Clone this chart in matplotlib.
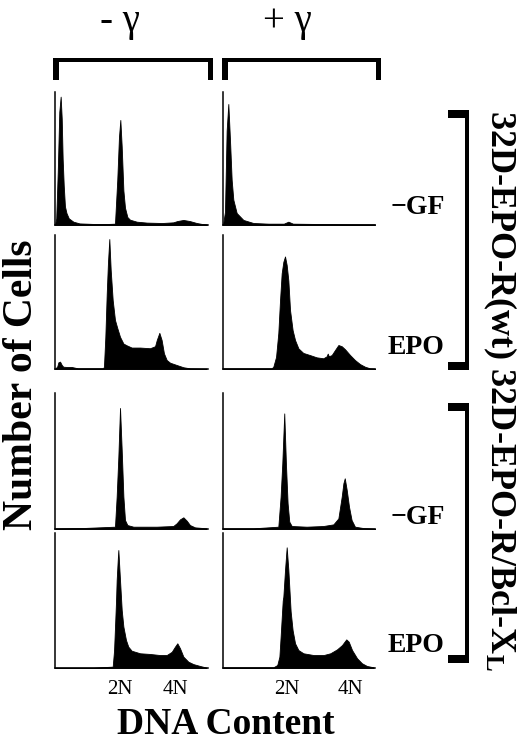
import matplotlib
matplotlib.use("Agg")
import matplotlib.pyplot as plt
from matplotlib.patches import Rectangle

plt.rcParams['font.family'] = ['Liberation Serif', 'DejaVu Serif']

# x: DNA content channel (% of panel width), y: number of cells (% of panel height)
# 32D-EPO-R(wt), -GF
wt_nogf_ctl_x = [0, 0.8, 1.8, 2.8, 3.7, 4.4, 5.0, 5.7, 6.5, 7.5, 9, 12, 16, 25, 35, 39.2, 40.7, 41.8,
                 42.7, 43.6, 44.7, 45.75, 47.3, 49.0, 53.4, 60, 70, 77.3, 80, 83.9, 88, 92.6, 96, 99.3]
wt_nogf_ctl_y = [0, 5, 40, 85, 96.5, 80, 50, 30, 14, 9, 5, 2.5, 1.2, 0.8, 0.8, 1, 34, 66,
                 79, 59, 26, 13, 6, 4, 2.5, 1.8, 1.5, 2, 3, 3.8, 3, 1.5, 0.8, 0.5]
wt_nogf_gam_x = [0, 1.3, 2.4, 3.5, 4.6, 5.7, 6.8, 9.0, 13.4, 20, 30, 40, 43, 46, 60, 80, 100]
wt_nogf_gam_y = [0, 10, 71, 91, 64, 34, 19, 9, 3.8, 1.5, 1, 1, 2.5, 1, 0.8, 0.6, 0.5]
# 32D-EPO-R(wt), EPO
wt_epo_ctl_x = [0, 1.5, 2.2, 3.3, 4.4, 5.4, 8, 10.9, 15, 25, 31.6, 32.0, 32.9, 33.8, 34.6, 35.5,
                36.4, 37.7, 39.2, 40.7, 42.5, 44.7, 46.8, 50.1, 55.6, 62.1, 65.4, 66.5, 68.2,
                69.7, 71.2, 73.0, 75.2, 79.5, 83.9, 88.2, 99]
wt_epo_ctl_y = [0, 2, 5, 5.5, 3, 1.7, 1.5, 1.5, 0.5, 0.5, 0.5, 2, 24, 56, 79, 97,
                74, 51.5, 36.6, 30.6, 24, 19, 17.7, 16, 16, 15.5, 17, 21.6, 27,
                21.6, 11.7, 6.7, 4.7, 3, 1.3, 0.5, 0.3]
wt_epo_gam_x = [0, 15, 32.0, 33.1, 34.9, 36.4, 37.5, 38.6, 39.7, 40.8, 41.9, 43.0, 44.1, 45.8,
                47.4, 49.6, 52.8, 57.2, 61.6, 66.0, 68.2, 68.9, 69.6, 71.5, 73.7, 75.9, 78.1,
                80.3, 83.6, 86.8, 90.1, 93.4, 96.7, 100]
wt_epo_gam_y = [0.5, 0.5, 0.5, 1.7, 9, 27, 51, 71.4, 80, 84, 77.6, 66, 44, 29,
                21.6, 15.4, 12, 10.4, 8.7, 8, 9.5, 11.5, 9.5, 10.4, 14.2, 17.9, 17,
                14.7, 10.4, 6.7, 3.7, 1.7, 0.5, 0.3]
# 32D-EPO-R/Bcl-XL, -GF
bcl_nogf_ctl_x = [0, 20, 39.2, 40.3, 41.4, 42.5, 43.6, 44.7, 45.75, 47.3, 51.2, 66.5, 77.3,
                  79.5, 81.7, 83.9, 86.1, 88.2, 91.5, 99]
bcl_nogf_ctl_y = [0.5, 0.8, 1.7, 23.8, 53, 89, 58, 23.8, 6.6, 2.9, 1.7, 1.7, 2.2,
                  4.2, 7.1, 8.6, 6.1, 2.9, 1.2, 0.5]
bcl_nogf_gam_x = [0, 20, 36.4, 37.9, 39.0, 40.3, 41.4, 42.5, 43.6, 45.2, 55.0, 66.0, 72.6,
                  75.9, 78.1, 79.2, 80.1, 81.4, 82.9, 84.6, 86.8, 92.3, 100]
bcl_nogf_gam_y = [0.5, 0.5, 1.7, 23.8, 48, 85, 48, 19, 5.4, 2.2, 1.7, 2.2, 3.4,
                  7.8, 23.8, 33.6, 37.3, 28.7, 16.4, 6.6, 1.7, 0.7, 0.3]
# 32D-EPO-R/Bcl-XL, EPO
bcl_epo_ctl_x = [0, 25, 37.7, 38.6, 39.4, 39.9, 40.3, 41.0, 41.4, 42.5, 43.6, 44.7, 46.4, 47.9,
                 50.1, 55.6, 62.1, 68.6, 73.0, 76.3, 78.4, 79.95, 81.7, 83.9, 87.1, 90.4, 94.8, 99]
bcl_epo_ctl_y = [0.3, 0.3, 1, 13, 35.6, 50, 65, 80, 87.4, 65, 43, 30.6, 20.7, 15.8,
                 12.8, 10.9, 10.4, 9.6, 9.6, 12, 15.8, 18.3, 14.6, 8.4, 4.7, 2.9, 1.5, 0.3]
bcl_epo_gam_x = [0, 33.1, 35.7, 37.1, 37.9, 38.8, 39.3, 39.7, 40.8, 41.9, 43.0, 44.5, 45.8, 47.4,
                 49.6, 52.9, 59.6, 66.2, 70.6, 75.0, 78.3, 81.1, 82.7, 84.9, 88.2, 91.4, 94.7, 99.1]
bcl_epo_gam_y = [0.5, 0.5, 2.2, 8.4, 23, 40.5, 50, 52.8, 72.6, 89.4, 72.6, 42, 28, 18.3,
                 13.3, 10.9, 9.6, 9.6, 10.9, 13.8, 17, 21.2, 19.5, 13.3, 7.2, 3.5, 1.5, 0.5]

tick_pos_ctl = [42.5, 78.9]
tick_pos_gam = [42, 84]
tick_labels = ['2N', '4N']

W, H = 520, 741
fig = plt.figure(figsize=(W / 100, H / 100), dpi=100)

# panel boxes in pixels: (left, width), (top, bottom)
cols = [(55, 153), (223, 152)]
rows = [(92, 225), (235, 369), (393, 529), (533, 668)]

panels = [
    [(wt_nogf_ctl_x, wt_nogf_ctl_y), (wt_nogf_gam_x, wt_nogf_gam_y)],
    [(wt_epo_ctl_x, wt_epo_ctl_y), (wt_epo_gam_x, wt_epo_gam_y)],
    [(bcl_nogf_ctl_x, bcl_nogf_ctl_y), (bcl_nogf_gam_x, bcl_nogf_gam_y)],
    [(bcl_epo_ctl_x, bcl_epo_ctl_y), (bcl_epo_gam_x, bcl_epo_gam_y)],
]

for r, (top, bot) in enumerate(rows):
    for c, (left, width) in enumerate(cols):
        ax = fig.add_axes([left / W, 1 - bot / H, width / W, (bot - top) / H])
        xs, ys = panels[r][c]
        ax.fill_between(xs, ys, color='black', lw=0.6)
        ax.set_xlim(0, 100)
        ax.set_ylim(0, 100)
        for s in ['top', 'right']:
            ax.spines[s].set_visible(False)
        for s in ['left', 'bottom']:
            ax.spines[s].set_linewidth(1.1)
        ax.set_yticks([])
        if r == 3:
            ax.set_xticks(tick_pos_ctl if c == 0 else tick_pos_gam)
            ax.set_xticklabels(tick_labels, fontsize=15)
            ax.tick_params(axis='x', length=0, pad=9)
        else:
            ax.set_xticks([])

# overlay in pixel coordinates for brackets and labels
ov = fig.add_axes([0, 0, 1, 1])
ov.set_xlim(0, W)
ov.set_ylim(H, 0)
ov.axis('off')

# top brackets
for x0, x1 in [(53, 213), (222, 381)]:
    ov.add_patch(Rectangle((x0, 58), x1 - x0, 4, color='black', lw=0))
    ov.add_patch(Rectangle((x0, 58), 6, 22, color='black', lw=0))
    ov.add_patch(Rectangle((x1 - 5, 58), 5, 22, color='black', lw=0))

ov.text(120, 22, '- \u03b3', fontsize=28, ha='center', va='center')
ov.text(287, 22, '+ \u03b3', fontsize=28, ha='center', va='center')

# right brackets
for y0, y1 in [(110, 370), (403, 663)]:
    ov.add_patch(Rectangle((465, y0), 4, y1 - y0, color='black', lw=0))
    ov.add_patch(Rectangle((448, y0), 21, 8, color='black', lw=0))
    ov.add_patch(Rectangle((448, y1 - 8), 21, 8, color='black', lw=0))

for y in [207, 517]:
    ov.text(391, y, '\u2212GF', fontsize=20, fontweight='bold', ha='left', va='center')
for y in [348, 645]:
    ov.text(388, y, 'EPO', fontsize=20, fontweight='bold', ha='left', va='center')

ov.text(500, 110, '32D-EPO-R(wt) 32D-EPO-R/Bcl-X$\\mathregular{_L}$', fontsize=26,
        fontweight='bold', rotation=270, ha='center', va='top')

ov.text(22, 385, 'Number of Cells', fontsize=30, fontweight='bold', rotation=90,
        ha='center', va='center')
ov.text(226, 724, 'DNA Content', fontsize=27, fontweight='bold', ha='center', va='center')

fig.savefig('out.png', dpi=100)
